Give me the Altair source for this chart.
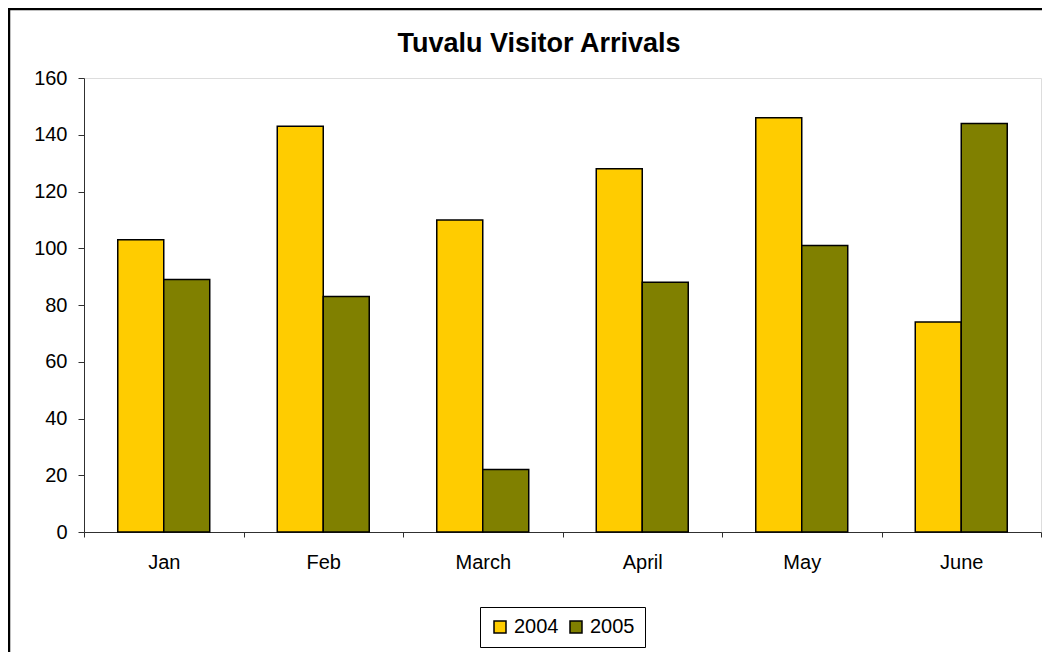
import altair as alt
import pandas as pd

months = ["Jan", "Feb", "March", "April", "May", "June"]
years = ["2004", "2005"]
arrivals_2004 = [103, 143, 110, 128, 146, 74]
arrivals_2005 = [89, 83, 22, 88, 101, 144]
y_ticks = [0, 20, 40, 60, 80, 100, 120, 140, 160]
colors = ["#FFCC00", "#808000"]
title_text = "Tuvalu Visitor Arrivals"

rows = []
for m, a, b in zip(months, arrivals_2004, arrivals_2005):
    rows.append({"Month": m, "Year": years[0], "Visitors": a})
    rows.append({"Month": m, "Year": years[1], "Visitors": b})
df = pd.DataFrame(rows)

FONT = "Liberation Sans"
W, H = 957, 454

bars = alt.Chart(df).mark_bar(stroke="black", strokeWidth=1.5).encode(
    x=alt.X("Month:N", sort=months, title=None,
            scale=alt.Scale(paddingInner=0, paddingOuter=0),
            axis=alt.Axis(labelAngle=0, tickBand="extent", tickSize=5,
                          labelPadding=15, labelFontSize=20, labelFont=FONT,
                          labelColor="black", domainColor="#303030",
                          tickColor="#303030", grid=False)),
    xOffset=alt.XOffset("Year:N", scale=alt.Scale(paddingInner=0, paddingOuter=0.734)),
    y=alt.Y("Visitors:Q", title=None,
            scale=alt.Scale(domain=[0, 160], nice=False),
            axis=alt.Axis(values=y_ticks, tickSize=6, labelPadding=11,
                          labelFontSize=20, labelFont=FONT, labelColor="black",
                          domainColor="#303030", tickColor="#303030", grid=False)),
    color=alt.Color("Year:N", scale=alt.Scale(domain=years, range=colors),
                    legend=alt.Legend(title=None, orient="none", direction="horizontal",
                                      legendX=396, legendY=529, strokeColor="black",
                                      fillColor="white", padding=10,
                                      symbolType="square", symbolSize=144,
                                      symbolStrokeColor="black", symbolStrokeWidth=1.5,
                                      labelFontSize=20, labelFont=FONT, labelColor="black",
                                      labelOffset=4, columnPadding=7)),
)

title = alt.Chart(pd.DataFrame({"t": [title_text]})).mark_text(
    font=FONT, fontSize=27, fontWeight="bold", color="black",
    align="center", baseline="alphabetic"
).encode(text="t:N", x=alt.value(455), y=alt.value(-26))

border = alt.Chart(pd.DataFrame({"a": [0]})).mark_rect(
    filled=False, stroke="black", strokeWidth=2.5
).encode(x=alt.value(-75), x2=alt.value(1200), y=alt.value(-69), y2=alt.value(1000))

chart = alt.layer(bars, title, border).properties(
    width=W, height=H,
    autosize=alt.AutoSizeParams(type="none"),
    padding={"left": 76, "top": 70, "right": 1, "bottom": 120},
).configure_view(stroke="#999999", strokeWidth=1.2).configure(background="white")

chart.save("out.html", embed_options={"renderer": "svg", "actions": False})
